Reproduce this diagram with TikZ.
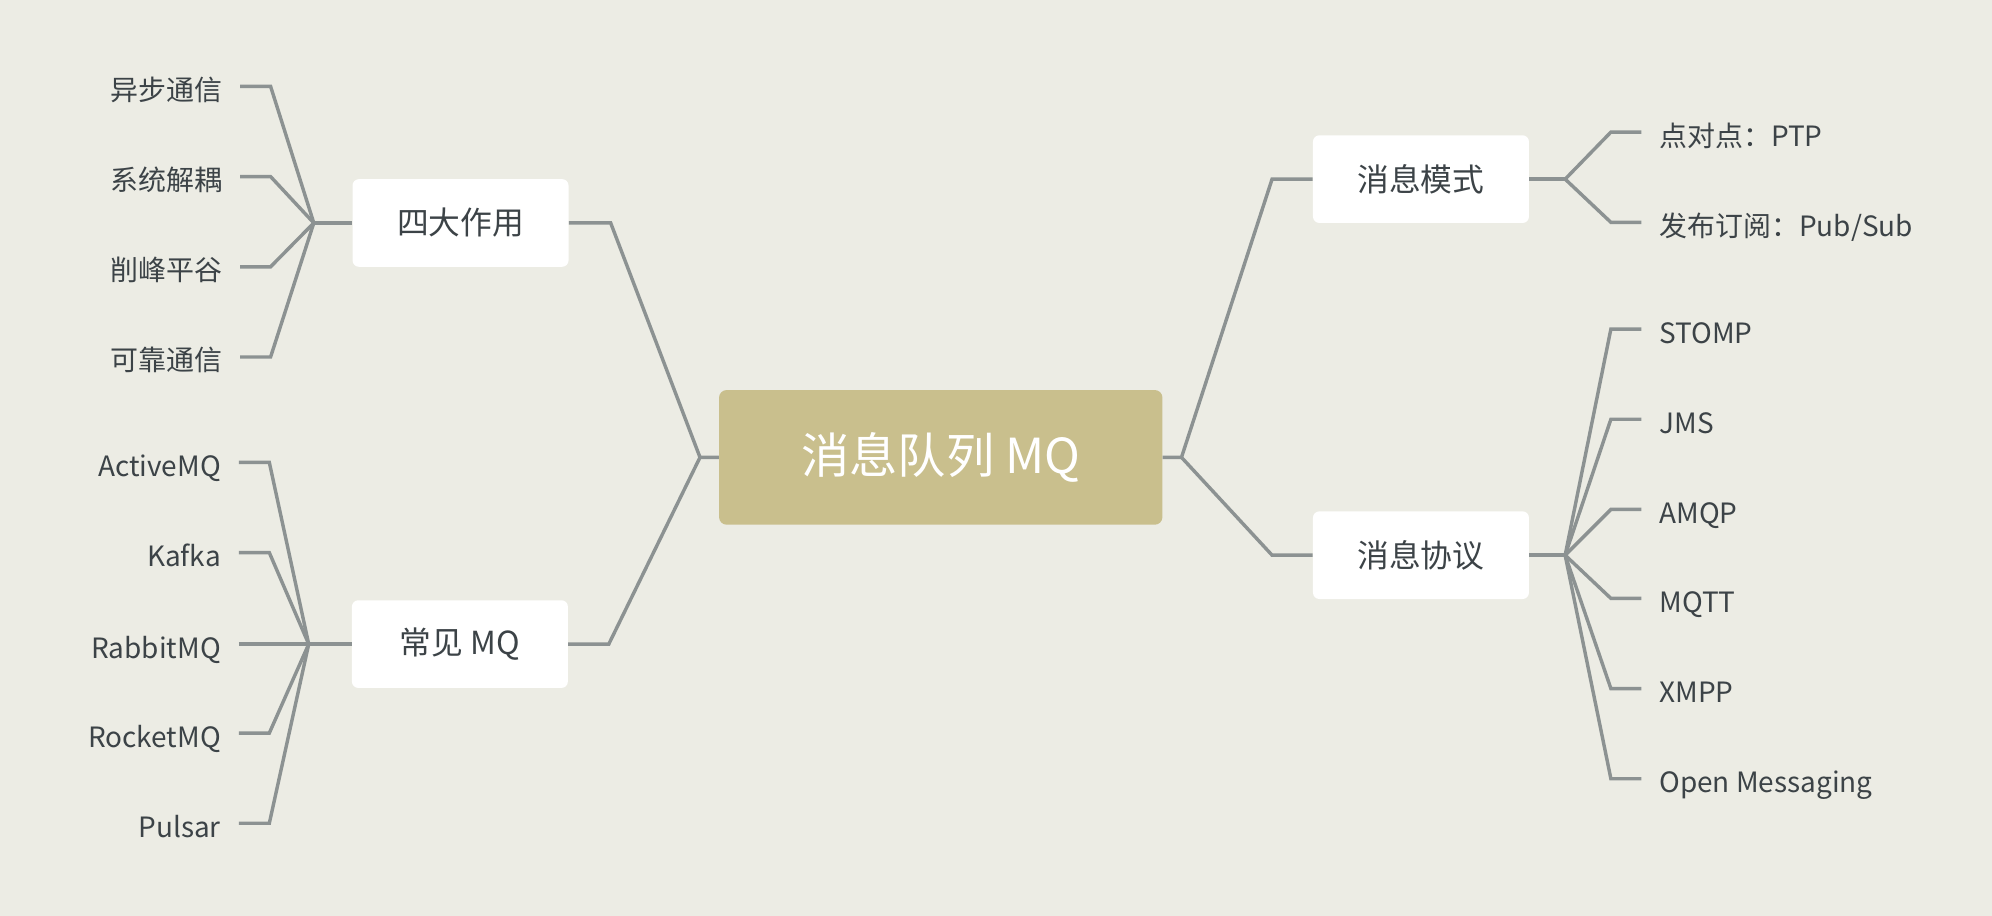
\documentclass[tikz,border=0pt]{standalone}
\usepackage{fontspec}
\setmainfont{Noto Sans CJK SC}
\usepackage{xcolor}
\usetikzlibrary{positioning}
\definecolor{paper}{HTML}{ECECE4}
\definecolor{branch}{HTML}{8C9292}
\definecolor{ink}{HTML}{3C4347}
\definecolor{khaki}{HTML}{C9BF8D}
\tikzstyle{root box}=[
    fill = khaki,
    text = white,
    rounded corners = 6pt,
    minimum width = 349pt,
    minimum height = 106pt,
    font = \fontsize{38}{44}\selectfont
]
\tikzstyle{topic box}=[
    fill = white,
    text = ink,
    rounded corners = 5pt,
    minimum width = 170pt,
    minimum height = 69pt,
    font = \fontsize{25}{30}\selectfont
]
\begin{document}
\begin{tikzpicture}[x=1pt, y=-1pt, link/.style = {draw=branch, line width=2.7pt},
    leaf/.style = {text=ink, inner xsep=14pt, inner ysep=0pt, text height=23pt, text depth=1pt, font=\fontsize{22}{26}\selectfont}]
        \fill[paper] (0,0) rectangle (1568,721);
        \useasboundingbox (0,0) rectangle (1568,721);

        % main topics
        \node[root box] (root) at (740.5,360) {消息队列 MQ};
        \node[topic box] (effect) at (362.5,175.5) {四大作用};
        \node[topic box] (mq) at (362,507) {常见 MQ};
        \node[topic box] (mode) at (1118.5,141) {消息模式};
        \node[topic box] (proto) at (1118.5,437) {消息协议};

        \coordinate (jl) at (551,360);
        \coordinate (jr) at (930,360);
        \coordinate (je) at (247,175.5);
        \coordinate (jm) at (243,507);
        \coordinate (jd) at (1232,141);
        \coordinate (jp) at (1232,437);

        % leaves
        \node[leaf, anchor=east] (e1) at (189,68) {异步通信};
        \node[leaf, anchor=east] (e2) at (189,139) {系统解耦};
        \node[leaf, anchor=east] (e3) at (189,210) {削峰平谷};
        \node[leaf, anchor=east] (e4) at (189,281) {可靠通信};

        \node[leaf, anchor=east] (m1) at (188,364) {ActiveMQ};
        \node[leaf, anchor=east] (m2) at (188,435) {Kafka};
        \node[leaf, anchor=east] (m3) at (188,507) {RabbitMQ};
        \node[leaf, anchor=east] (m4) at (188,577) {RocketMQ};
        \node[leaf, anchor=east] (m5) at (188,648) {Pulsar};

        \node[leaf, anchor=west] (d1) at (1292,104) {点对点：PTP};
        \node[leaf, anchor=west] (d2) at (1292,175) {发布订阅：Pub/Sub};

        \node[leaf, anchor=west] (p1) at (1292,259) {STOMP};
        \node[leaf, anchor=west] (p2) at (1292,330) {JMS};
        \node[leaf, anchor=west] (p3) at (1292,401) {AMQP};
        \node[leaf, anchor=west] (p4) at (1292,471) {MQTT};
        \node[leaf, anchor=west] (p5) at (1292,542) {XMPP};
        \node[leaf, anchor=west] (p6) at (1292,613) {Open Messaging};

        % branches from the root
        \draw[link] (effect.east) -- ++(33,0) -- (jl) -- (root.west);
        \draw[link] (mq.east) -- ++(32,0) -- (jl);
        \draw[link] (mode.west) -- ++(-32,0) -- (jr) -- (root.east);
        \draw[link] (proto.west) -- ++(-32,0) -- (jr);

        \draw[link] (je) -- (effect.west);
        \draw[link] (e1.east) -- ++(24,0) -- (je);
        \draw[link] (e2.east) -- ++(24,0) -- (je);
        \draw[link] (e3.east) -- ++(24,0) -- (je);
        \draw[link] (e4.east) -- ++(24,0) -- (je);

        \draw[link] (jm) -- (mq.west);
        \draw[link] (m1.east) -- ++(24,0) -- (jm);
        \draw[link] (m2.east) -- ++(24,0) -- (jm);
        \draw[link] (m3.east) -- (jm);
        \draw[link] (m4.east) -- ++(24,0) -- (jm);
        \draw[link] (m5.east) -- ++(24,0) -- (jm);

        \draw[link] (mode.east) -- (jd);
        \draw[link] (d1.west) -- ++(-24,0) -- (jd);
        \draw[link] (d2.west) -- ++(-24,0) -- (jd);

        \draw[link] (proto.east) -- (jp);
        \draw[link] (p1.west) -- ++(-24,0) -- (jp);
        \draw[link] (p2.west) -- ++(-24,0) -- (jp);
        \draw[link] (p3.west) -- ++(-24,0) -- (jp);
        \draw[link] (p4.west) -- ++(-24,0) -- (jp);
        \draw[link] (p5.west) -- ++(-24,0) -- (jp);
        \draw[link] (p6.west) -- ++(-24,0) -- (jp);

    \end{tikzpicture}
\end{document}
